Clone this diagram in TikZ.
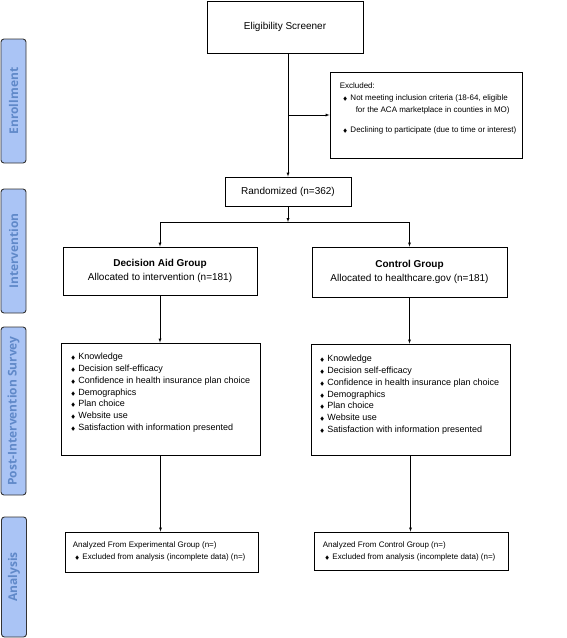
\documentclass[tikz,border=0pt]{standalone}
\usepackage{fontspec}
\setmainfont{Liberation Sans}
\newfontfamily\phasefont{Open Sans}
\usepackage{amssymb}
\usepackage{tikz}
\usetikzlibrary{positioning}
\usetikzlibrary{arrows}
\definecolor{phasefill}{HTML}{AAC4F5}
\definecolor{phasetext}{HTML}{6089C9}
\newcommand{\dmd}{{\fontsize{5}{5}\selectfont$\blacklozenge$}\hspace{3pt}}
\tikzset{box/.style={draw, line width=0.9pt, align=center, font=\fontsize{10}{14}\selectfont}}
\tikzset{listtxt/.style={inner sep=0pt, align=left, anchor=north west}}
\tikzset{phase/.style={draw=black!80, line width=0.9pt, fill=phasefill, rounded corners=3pt, rotate=90, minimum height=25, text=phasetext, font=\phasefont\bfseries\fontsize{12}{12}\selectfont}}

\begin{document}
\begin{tikzpicture}[x=1pt,y=-1pt]
\useasboundingbox (0,0) rectangle (567,638);
% phases on the left
\node[phase, minimum width=124] (enrol) at (13.5,101) {Enrollment};
\node[phase, minimum width=124] (inter) at (13.5,251) {Intervention};
\node[phase, minimum width=168] (post) at (13.5,411) {Post-Intervention Survey};
\node[phase, minimum width=120] (anal) at (14,577) {Analysis};
% enrollment
\node[box, minimum width=156, minimum height=52] (screen) at (285,27) {Eligibility Screener};
\node[box, minimum width=192, minimum height=86] (excl) at (426,115) {};
\node[listtxt, font=\fontsize{8}{12}\selectfont] (excltxt) at ([shift={(10,11)}]excl.north west)
  {Excluded:\\
   \hspace{3pt}\dmd Not meeting inclusion criteria (18-64, eligible\\
   \hspace{16pt}for the ACA marketplace in counties in MO)\\[8pt]
   \hspace{3pt}\dmd Declining to participate (due to time or interest)};
\node[box, minimum width=126, minimum height=29] (rand) at (288,191.5) {Randomized (n=362)};
% groups
\node[box, minimum width=194, minimum height=48] (daG) at (160,271) {\textbf{Decision Aid Group}\\Allocated to intervention (n=181)};
\node[box, minimum width=195, minimum height=50] (ctG) at (409.5,272) {\textbf{Control Group}\\Allocated to healthcare.gov (n=181)};
% survey
\node[box, minimum width=199, minimum height=112] (svL) at (160.5,399) {};
\node[box, minimum width=199, minimum height=111] (svR) at (410.5,399.5) {};
\node[listtxt, font=\fontsize{9}{11.8}\selectfont] (svLtxt) at ([shift={(10,10.5)}]svL.north west)
  {\dmd Knowledge\\ \dmd Decision self-efficacy\\ \dmd Confidence in health insurance plan choice\\
   \dmd Demographics\\ \dmd Plan choice\\ \dmd Website use\\ \dmd Satisfaction with information presented};
\node[listtxt, font=\fontsize{9}{11.8}\selectfont] (svRtxt) at ([shift={(9,11.5)}]svR.north west)
  {\dmd Knowledge\\ \dmd Decision self-efficacy\\ \dmd Confidence in health insurance plan choice\\
   \dmd Demographics\\ \dmd Plan choice\\ \dmd Website use\\ \dmd Satisfaction with information presented};
% analysis
\node[box, minimum width=193, minimum height=40] (anL) at (161.5,552) {};
\node[box, minimum width=194, minimum height=38] (anR) at (411,551) {};
\node[listtxt, font=\fontsize{8}{12}\selectfont] (anLtxt) at ([shift={(8,10)}]anL.north west)
  {Analyzed From Experimental Group (n=)\\ \hspace{2pt}\dmd Excluded from analysis (incomplete data) (n=)};
\node[listtxt, font=\fontsize{8}{12}\selectfont] (anRtxt) at ([shift={(9,10)}]anR.north west)
  {Analyzed From Control Group (n=)\\ \hspace{2pt}\dmd Excluded from analysis (incomplete data) (n=)};
% connectors
\coordinate (brk) at (rand.north |- excl.west);
\coordinate (split) at (rand.south |- 0,222);
\draw[-latex] (rand.north |- screen.south) -- (rand.north);
\draw[-latex] (brk) -- (excl.west);
\draw[-latex] (rand.south) -- (split);
\draw (daG.north |- split) -- (ctG.north |- split);
\draw[-latex] (daG.north |- split) -- (daG.north);
\draw[-latex] (ctG.north |- split) -- (ctG.north);
\draw[-latex] (daG.south) -- (daG.south |- svL.north);
\draw[-latex] (ctG.south) -- (ctG.south |- svR.north);
\draw[-latex] (svL.south) -- (svL.south |- anL.north);
\draw[-latex] (svR.south) -- (svR.south |- anR.north);
\end{tikzpicture}
\end{document}
